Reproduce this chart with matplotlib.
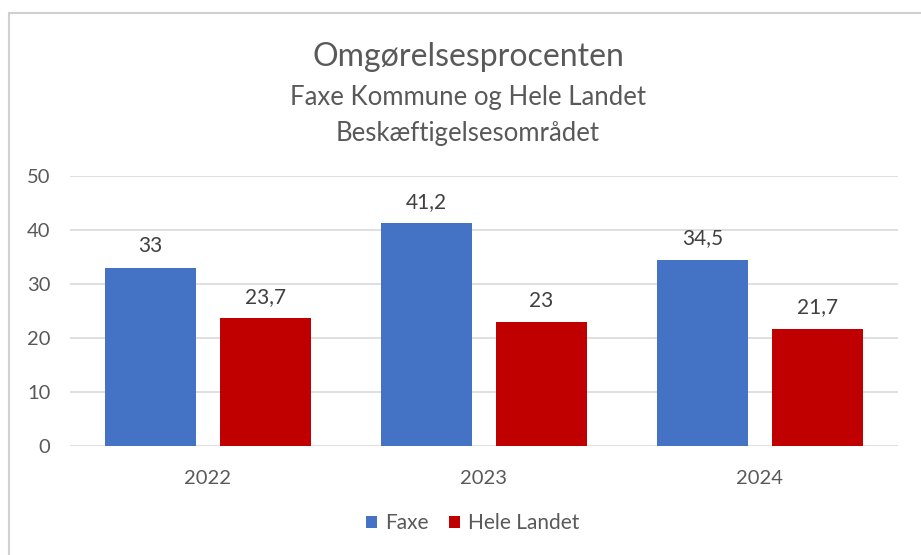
import numpy as np
import matplotlib.pyplot as plt
from matplotlib.patches import Rectangle

years = ["2022", "2023", "2024"]
faxe = [33, 41.2, 34.5]
hele_landet = [23.7, 23, 21.7]
faxe_labels = ["33", "41,2", "34,5"]
hele_labels = ["23,7", "23", "21,7"]

plt.rcParams['font.family'] = ['Lato', 'DejaVu Sans']
grey = "#595959"

fig = plt.figure(figsize=(9.21, 5.55), dpi=100)
ax = fig.add_axes([0.076, 0.1964, 0.899, 0.487])

x = np.arange(len(years))
w = 0.33
gap = 0.087
b1 = ax.bar(x - (w + gap) / 2, faxe, w, color="#4472C4", label="Faxe", zorder=3)
b2 = ax.bar(x + (w + gap) / 2, hele_landet, w, color="#C00000", label="Hele Landet", zorder=3)

for bars, labels in [(b1, faxe_labels), (b2, hele_labels)]:
    for rect, lab in zip(bars, labels):
        ax.annotate(lab, (rect.get_x() + rect.get_width() / 2, rect.get_height()),
                    xytext=(0, 8), textcoords="offset points",
                    ha="center", va="bottom", fontsize=15, color="#404040")

ax.set_xlim(-0.5, 2.5)
ax.set_ylim(0, 50)
ax.set_yticks(range(0, 51, 10))
ax.set_xticks(x)
ax.set_xticklabels(years)
ax.tick_params(length=0, labelsize=14.5, colors=grey)
ax.tick_params(axis="x", pad=17)
ax.tick_params(axis="y", pad=14)
ax.grid(axis="y", color="#d9d9d9", linewidth=1.2, zorder=0)
for s in ax.spines.values():
    s.set_visible(False)

cx = 468 / 921
fig.text(cx, 1 - 57 / 555, "Omgørelsesprocenten", ha="center", va="center", fontsize=23, color=grey)
fig.text(cx, 1 - 97 / 555, "Faxe Kommune og Hele Landet", ha="center", va="center", fontsize=18.5, color=grey)
fig.text(cx, 1 - 133 / 555, "Beskæftigelsesområdet", ha="center", va="center", fontsize=18.5, color=grey)

fig.legend(loc="center", bbox_to_anchor=(473 / 921, 1 - 523 / 555), ncol=2, frameon=False,
           fontsize=15, handlelength=0.5, handleheight=0.5, handletextpad=0.4,
           columnspacing=1.0, labelcolor=grey)

# chart border (top and left visible)
fig.patches.append(Rectangle((9 / 921, -0.1), 1.1, 1 - 13 / 555 + 0.1, transform=fig.transFigure,
                             fill=False, edgecolor="#d0d0d0", linewidth=1.5))

fig.savefig("out.png", dpi=100)
